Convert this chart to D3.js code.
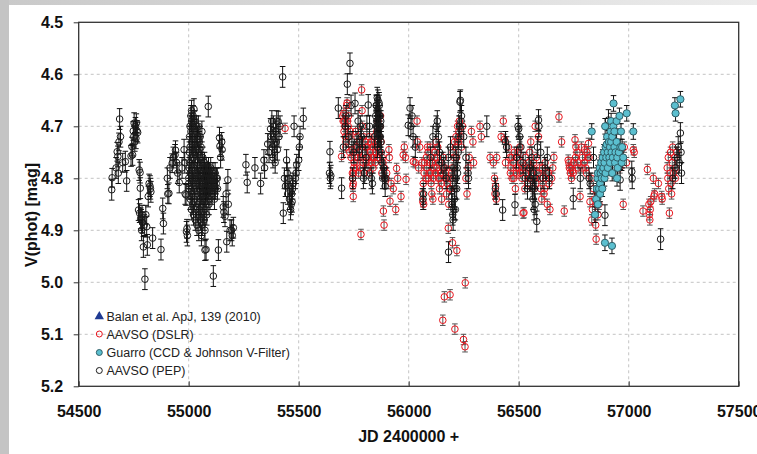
<!DOCTYPE html>
<html><head><meta charset="utf-8">
<script src="https://cdn.jsdelivr.net/npm/d3@7"></script>
<style>html,body{margin:0;padding:0;background:#fff;}svg{display:block;}</style>
</head><body>
<svg id="chart" width="757" height="454"></svg>
<script>
// ---------- data ----------
const xTicks = [54500, 55000, 55500, 56000, 56500, 57000, 57500];
const yTicks = [4.5, 4.6, 4.7, 4.8, 4.9, 5.0, 5.1, 5.2];
const xTitle = "JD 2400000 +";
const yTitle = "V(phot) [mag]";
const legendLabels = ["Balan et al. ApJ, 139 (2010)", "AAVSO (DSLR)", "Guarro (CCD & Johnson V-Filter)", "AAVSO (PEP)"];

// [JD, V mag, error]
const balan = [];

const pep = [
[54650,4.822,.02],[54652,4.799,.018],[54670,4.78,.02],[54675,4.749,.018],[54678,4.758,.02],[54680,4.79,.02],[54683,4.73,.017],[54686,4.686,.02],[54690,4.72,.02],[54700,4.77,.018],[54712,4.768,.02],[54718,4.805,.02],
[54738,4.757,.02],[54742,4.739,.018],[54745,4.755,.02],[54748,4.709,.018],[54750,4.72,.02],[54752,4.694,.02],[54755,4.73,.018],[54758,4.70,.017],[54760,4.723,.02],[54762,4.694,.018],[54765,4.709,.02],[54768,4.712,.02],
[54772,4.861,.02],[54775,4.784,.02],[54777,4.867,.018],[54779,4.789,.02],[54780,4.819,.02],[54782,4.877,.02],[54784,4.88,.02],[54786,4.9,.02],[54788,4.87,.018],[54790,4.885,.02],[54794,4.932,.02],[54798,4.89,.02],[54801,4.994,.02],[54805,4.87,.018],[54809,4.893,.02],[54812,4.928,.02],[54816,4.835,.02],[54820,4.81,.018],[54824,4.815,.02],[54826,4.82,.02],[54828,4.826,.02],[54836,4.915,.02],
[54874,4.937,.02],[54882,4.858,.02],[54885,4.887,.02],[54903,4.8,.02],[54905,4.83,.018],[54910,4.829,.02],[54915,4.78,.02],[54925,4.771,.018],[54930,4.76,.02],[54938,4.755,.02],[54940,4.746,.018],[54945,4.77,.02],[54950,4.79,.02],[54957,4.808,.02],[54970,4.78,.02],[54979,4.745,.02],[54982,4.77,.02],[54984,4.83,.02],[54988,4.832,.02],[54990,4.903,.02],[54992,4.897,.018],[54994,4.91,.02],
[55000,4.80,.02],[55000,4.81,.02],[55001,4.82,.02],[55002,4.78,.02],[55003,4.75,.02],[55004,4.77,.02],[55004,4.72,.02],[55006,4.70,.02],[55006,4.74,.02],[55007,4.79,.02],[55007,4.84,.02],
[55010,4.68,.02],[55010,4.71,.02],[55011,4.76,.02],[55011,4.82,.02],[55012,4.86,.02],[55013,4.67,.02],[55013,4.69,.02],[55014,4.73,.02],[55014,4.78,.02],[55015,4.83,.02],
[55016,4.70,.02],[55017,4.74,.02],[55017,4.80,.02],[55018,4.85,.02],[55020,4.68,.02],[55020,4.72,.02],[55021,4.76,.02],[55021,4.81,.02],[55022,4.87,.02],
[55024,4.667,.02],[55024,4.70,.02],[55025,4.75,.02],[55025,4.79,.02],[55026,4.84,.02],[55028,4.69,.02],[55028,4.73,.02],[55029,4.78,.02],[55029,4.82,.02],[55030,4.88,.02],
[55032,4.71,.02],[55032,4.75,.02],[55033,4.80,.02],[55034,4.86,.02],[55036,4.70,.02],[55036,4.74,.02],[55037,4.79,.02],[55037,4.83,.02],[55038,4.89,.02],
[55040,4.72,.02],[55040,4.77,.02],[55041,4.81,.02],[55042,4.85,.02],[55044,4.70,.02],[55044,4.75,.02],[55045,4.80,.02],[55045,4.87,.02],[55046,4.90,.02],
[55048,4.73,.02],[55048,4.78,.02],[55049,4.82,.02],[55050,4.86,.02],[55052,4.72,.02],[55052,4.76,.02],[55053,4.80,.02],[55053,4.84,.02],[55054,4.88,.02],
[55056,4.74,.02],[55056,4.79,.02],[55057,4.83,.02],[55058,4.91,.02],[55060,4.71,.02],[55060,4.77,.02],[55061,4.81,.02],[55061,4.85,.02],[55062,4.89,.02],
[55064,4.76,.02],[55064,4.80,.02],[55065,4.83,.02],[55066,4.87,.02],[55068,4.78,.02],[55068,4.81,.02],[55069,4.84,.02],[55070,4.88,.02],
[55072,4.77,.02],[55072,4.80,.02],[55073,4.82,.02],[55073,4.86,.02],[55074,4.90,.02],[55074,4.938,.02],[55076,4.79,.02],[55076,4.81,.02],[55077,4.83,.02],[55078,4.85,.02],[55079,4.937,.02],
[55080,4.78,.02],[55081,4.80,.02],[55081,4.82,.02],[55082,4.87,.02],[55085,4.79,.02],[55086,4.81,.02],[55086,4.83,.02],[55089,4.662,.02],
[55090,4.78,.02],[55091,4.80,.02],[55091,4.82,.02],[55092,4.85,.02],[55095,4.79,.02],[55096,4.81,.02],[55097,4.84,.02],
[55100,4.78,.02],[55101,4.80,.02],[55101,4.82,.02],[55105,4.80,.02],[55106,4.81,.02],[55106,4.83,.02],[55110,4.79,.02],[55111,4.82,.02],[55112,4.988,.02],
[55115,4.80,.02],[55116,4.81,.02],[55117,4.84,.02],[55120,4.79,.02],[55121,4.82,.02],[55125,4.81,.02],[55126,4.80,.02],[55130,4.80,.02],[55131,4.82,.02],
[55135,4.938,.02],[55140,4.722,.02],[55142,4.738,.02],[55145,4.76,.02],[55150,4.73,.018],[55152,4.745,.02],[55157,4.855,.02],[55160,4.865,.02],[55165,4.873,.02],[55170,4.83,.02],[55173,4.922,.02],[55178,4.803,.02],[55180,4.85,.02],[55188,4.9,.02],[55195,4.9,.02],[55198,4.91,.02],[55203,4.895,.02],
[55260,4.774,.02],[55266,4.808,.02],[55301,4.78,.02],[55327,4.81,.02],[55342,4.765,.02],[55345,4.78,.02],[55359,4.734,.02],[55365,4.75,.02],[55372,4.705,.02],[55375,4.72,.02],[55378,4.69,.02],[55380,4.74,.02],[55383,4.76,.02],[55385,4.70,.02],[55388,4.72,.018],[55390,4.75,.02],[55393,4.77,.02],[55395,4.71,.02],[55398,4.73,.02],[55400,4.69,.02],[55403,4.745,.02],[55407,4.691,.02],[55410,4.72,.02],[55415,4.70,.02],
[55427,4.605,.02],[55430,4.867,.02],[55435,4.80,.02],[55440,4.815,.02],[55445,4.765,.02],[55448,4.79,.02],[55450,4.83,.02],[55455,4.80,.02],[55458,4.84,.02],[55460,4.815,.02],[55463,4.86,.02],[55466,4.85,.02],[55468,4.83,.02],[55470,4.845,.02],[55472,4.82,.02],[55475,4.81,.02],[55479,4.70,.02],[55485,4.80,.02],[55488,4.79,.02],[55491,4.774,.02],[55500,4.765,.02],[55503,4.74,.02],[55506,4.72,.02],[55521,4.685,.02],
[55640,4.79,.02],[55642,4.749,.02],[55644,4.80,.02],[55646,4.795,.02],[55680,4.665,.02],[55695,4.819,.02],[55703,4.74,.02],[55712,4.70,.02],[55715,4.68,.02],[55721,4.619,.02],[55725,4.72,.02],[55733,4.579,.02],[55738,4.66,.02],[55742,4.73,.02],[55745,4.80,.02],[55750,4.75,.02],[55756,4.656,.02],[55765,4.73,.02],[55770,4.69,.02],[55775,4.745,.02],[55780,4.70,.02],[55785,4.72,.02],[55790,4.74,.02],[55794,4.80,.02],[55800,4.79,.02],[55806,4.76,.02],[55810,4.70,.02],[55816,4.659,.02],[55822,4.70,.02],[55830,4.80,.02],[55835,4.81,.02],
[55845,4.72,.02],[55850,4.68,.02],[55852,4.66,.02],[55853,4.70,.02],[55854,4.69,.02],[55855,4.66,.02],[55856,4.67,.02],[55857,4.645,.02],[55858,4.70,.02],[55858,4.74,.02],[55859,4.69,.02],[55860,4.65,.02],[55861,4.67,.02],[55862,4.68,.02],[55862,4.72,.02],[55863,4.71,.02],[55864,4.70,.02],[55865,4.655,.02],[55866,4.66,.02],[55867,4.68,.02],[55868,4.72,.02],[55869,4.70,.02],[55870,4.68,.02],[55871,4.72,.02],[55872,4.70,.02],[55873,4.69,.02],[55874,4.73,.02],[55875,4.75,.02],[55878,4.77,.02],[55882,4.80,.02],[55886,4.78,.02],[55890,4.80,.02],[55893,4.815,.02],[55897,4.80,.02],
[55998,4.698,.02],[56006,4.665,.02],[56010,4.70,.02],[56015,4.68,.02],[56020,4.72,.02],[56030,4.74,.02],[56065,4.84,.02],[56068,4.83,.02],[56100,4.76,.02],[56110,4.72,.02],[56125,4.70,.02],[56130,4.69,.02],[56135,4.72,.02],[56140,4.75,.02],[56150,4.77,.02],[56160,4.78,.02],[56170,4.80,.02],[56180,4.76,.02],[56181,4.942,.02],[56190,4.74,.02],[56195,4.835,.02],[56198,4.85,.02],[56200,4.87,.02],[56200,4.80,.02],[56202,4.88,.02],[56205,4.86,.02],[56205,4.78,.02],[56208,4.84,.02],[56210,4.82,.02],[56212,4.86,.02],[56215,4.80,.02],[56215,4.76,.02],[56218,4.82,.02],[56220,4.78,.02],[56222,4.79,.02],[56225,4.75,.02],[56228,4.72,.02],[56230,4.70,.02],[56233,4.653,.02],[56235,4.65,.02],[56238,4.69,.02],[56240,4.68,.02],[56250,4.72,.02],[56260,4.76,.02],[56270,4.79,.02],[56272,4.80,.02],
[56355,4.70,.02],[56394,4.82,.02],[56398,4.83,.02],[56427,4.861,.02],[56440,4.73,.02],[56445,4.74,.02],[56483,4.851,.02],[56490,4.76,.02],[56497,4.70,.02],[56500,4.705,.02],[56505,4.72,.02],[56510,4.74,.02],[56520,4.77,.02],[56530,4.80,.02],[56540,4.82,.02],[56550,4.78,.02],[56555,4.80,.02],[56560,4.76,.02],[56562,4.82,.02],[56565,4.84,.02],[56568,4.79,.02],[56570,4.86,.02],[56572,4.82,.02],[56575,4.85,.02],[56578,4.80,.02],[56582,4.883,.02],[56585,4.74,.02],[56590,4.688,.02],[56592,4.70,.02],[56600,4.75,.02],[56610,4.80,.02],[56620,4.78,.02],[56630,4.76,.02],[56640,4.80,.02],
[56748,4.839,.02],[56780,4.80,.02],[56820,4.80,.02],[56825,4.81,.02],[56840,4.76,.02],[56860,4.83,.02],[56880,4.80,.02],[56892,4.871,.02],[56900,4.75,.02],[56908,4.688,.02],[56920,4.74,.02],[56940,4.78,.02],[56961,4.803,.02],[56970,4.76,.02],[57014,4.787,.02],[57016,4.80,.02],[57145,4.917,.02],[57200,4.80,.02],[57210,4.78,.02],[57220,4.76,.02],[57225,4.74,.02],[57230,4.77,.02],[57235,4.713,.02],[57238,4.75,.02],[57240,4.79,.02]
];

const dslr = [
[55438,4.704,.01],
[55695,4.758,.01],[55700,4.68,.01],[55702,4.69,.01],[55705,4.675,.01],[55706,4.71,.01],[55708,4.69,.01],[55710,4.70,.01],[55712,4.72,.01],[55714,4.74,.01],[55715,4.73,.01],[55718,4.66,.01],[55720,4.655,.01],[55722,4.69,.01],[55725,4.70,.01],[55727,4.68,.01],[55730,4.72,.01],[55732,4.75,.01],[55735,4.71,.01],[55738,4.76,.01],[55742,4.745,.01],[55744,4.79,.01],[55745,4.80,.01],[55746,4.815,.01],[55748,4.835,.01],[55748,4.81,.01],[55749,4.79,.01],[55750,4.78,.01],[55752,4.77,.01],[55755,4.76,.01],[55758,4.71,.01],[55760,4.74,.01],[55762,4.78,.01],[55765,4.72,.01],[55768,4.74,.01],[55770,4.76,.01],[55772,4.79,.01],[55775,4.75,.01],[55778,4.73,.01],[55780,4.78,.01],[55782,4.76,.01],[55783,4.908,.01],[55786,4.63,.01],[55788,4.67,.01],[55790,4.70,.01],[55792,4.77,.01],[55795,4.72,.01],[55797,4.79,.01],[55800,4.75,.01],[55802,4.73,.01],[55805,4.74,.01],[55807,4.77,.01],[55810,4.76,.01],[55812,4.74,.01],[55815,4.78,.01],[55818,4.76,.01],[55820,4.72,.01],[55822,4.79,.01],[55825,4.75,.01],[55828,4.73,.01],[55830,4.77,.01],[55832,4.76,.01],[55835,4.74,.01],[55838,4.78,.01],[55840,4.76,.01],[55842,4.72,.01],[55845,4.73,.01],[55848,4.77,.01],[55850,4.75,.01],[55852,4.74,.01],[55855,4.71,.01],[55858,4.76,.01],[55860,4.69,.01],[55862,4.73,.01],[55865,4.72,.01],[55868,4.75,.01],[55870,4.70,.01],[55872,4.68,.01],[55875,4.73,.01],[55878,4.79,.01],[55880,4.76,.01],[55883,4.77,.01],[55885,4.863,.01],[55888,4.89,.01],[55890,4.78,.01],[55895,4.80,.01],[55900,4.79,.01],
[55910,4.745,.01],[55912,4.76,.01],[55915,4.844,.01],[55920,4.81,.01],[55930,4.82,.01],[55941,4.86,.01],[55945,4.781,.01],[55950,4.80,.01],[55965,4.835,.01],[55975,4.755,.01],[55980,4.74,.01],[55985,4.76,.01],[55988,4.802,.01],[56021,4.768,.01],[56030,4.77,.01],[56038,4.69,.01],[56040,4.73,.01],[56045,4.78,.01],
[56050,4.74,.01],[56060,4.77,.01],[56062,4.83,.01],[56064,4.845,.01],[56066,4.81,.01],[56068,4.85,.01],[56070,4.79,.01],[56072,4.77,.01],[56078,4.80,.01],[56080,4.76,.01],[56082,4.78,.01],[56085,4.74,.01],[56088,4.75,.01],[56090,4.80,.01],[56092,4.79,.01],[56095,4.77,.01],[56098,4.74,.01],[56100,4.79,.01],[56102,4.81,.01],[56105,4.83,.01],[56108,4.77,.01],[56110,4.84,.01],[56112,4.80,.01],[56115,4.78,.01],[56118,4.76,.01],[56120,4.75,.01],[56122,4.79,.01],[56125,4.73,.01],[56128,4.78,.01],[56130,4.76,.01],[56132,4.74,.01],[56135,4.80,.01],[56138,4.77,.01],[56140,4.82,.01],[56142,4.80,.01],[56145,4.79,.01],[56148,4.81,.01],[56150,4.84,.01],[56152,4.78,.01],[56155,5.073,.01],[56158,4.76,.01],[56162,5.028,.01],[56165,4.78,.01],[56168,4.79,.01],[56170,4.80,.01],[56172,4.83,.01],[56175,4.81,.01],[56178,4.80,.01],[56180,4.896,.01],[56182,4.85,.01],[56185,4.82,.01],[56188,5.024,.01],[56190,4.82,.01],[56192,4.80,.01],[56195,4.79,.01],[56198,4.78,.01],[56199,4.924,.01],[56202,4.75,.01],[56205,4.76,.01],[56208,4.73,.01],[56210,5.09,.01],[56212,4.74,.01],[56215,4.72,.01],[56218,4.76,.01],[56219,4.939,.01],[56222,4.70,.01],[56225,4.73,.01],[56228,4.71,.01],[56230,4.69,.01],[56235,4.72,.01],[56240,4.74,.01],[56245,4.70,.01],[56249,5.11,.01],[56256,5.124,.01],[56257,5.001,.01],[56260,4.80,.01],[56265,4.83,.01],[56270,4.78,.01],[56275,4.76,.01],[56285,4.71,.01],[56292,4.73,.01],[56295,4.77,.01],[56324,4.70,.01],[56330,4.72,.01],
[56370,4.76,.01],[56385,4.77,.01],[56390,4.80,.01],[56392,4.83,.01],[56395,4.815,.01],[56398,4.84,.01],[56400,4.76,.01],[56420,4.72,.01],[56430,4.69,.01],[56435,4.725,.01],[56440,4.77,.01],[56453,4.74,.01],[56460,4.76,.01],[56462,4.79,.01],[56465,4.78,.01],[56468,4.76,.01],[56470,4.80,.01],[56475,4.77,.01],[56478,4.80,.01],[56480,4.75,.01],[56485,4.82,.01],[56488,4.78,.01],[56490,4.79,.01],[56495,4.76,.01],[56498,4.75,.01],[56500,4.78,.01],[56505,4.74,.01],[56508,4.79,.01],[56510,4.77,.01],[56515,4.80,.01],[56518,4.78,.01],[56520,4.867,.01],[56524,4.866,.01],[56528,4.82,.01],[56530,4.76,.01],[56535,4.79,.01],[56538,4.78,.01],[56540,4.81,.01],[56545,4.77,.01],[56548,4.80,.01],[56550,4.75,.01],[56555,4.73,.01],[56558,4.79,.01],[56560,4.78,.01],[56565,4.82,.01],[56568,4.77,.01],[56570,4.80,.01],[56575,4.70,.01],[56578,4.81,.01],[56580,4.76,.01],[56588,4.79,.01],[56590,4.72,.01],[56595,4.78,.01],[56598,4.80,.01],[56600,4.82,.01],[56605,4.84,.01],[56608,4.78,.01],[56610,4.80,.01],[56615,4.83,.01],[56618,4.82,.01],[56620,4.77,.01],[56625,4.80,.01],[56628,4.79,.01],[56630,4.85,.01],[56635,4.79,.01],[56638,4.81,.01],[56642,4.86,.01],[56650,4.80,.01],[56655,4.78,.01],[56660,4.76,.01],
[56683,4.682,.01],[56695,4.73,.01],[56707,4.863,.01],[56725,4.765,.01],[56728,4.77,.01],[56730,4.78,.01],[56735,4.79,.01],[56738,4.78,.01],[56740,4.80,.01],[56745,4.785,.01],[56748,4.79,.01],[56750,4.77,.01],[56756,4.726,.01],[56758,4.76,.01],[56760,4.74,.01],[56765,4.75,.01],[56768,4.77,.01],[56770,4.78,.01],[56779,4.835,.01],[56785,4.74,.01],[56788,4.78,.01],[56790,4.76,.01],[56798,4.77,.01],[56800,4.745,.01],[56805,4.78,.01],[56808,4.79,.01],[56810,4.75,.01],[56814,4.76,.01],[56817,4.733,.01],[56820,4.76,.01],[56824,4.845,.01],[56830,4.80,.01],[56832,4.88,.01],[56835,4.86,.01],[56840,4.82,.01],[56845,4.84,.01],[56848,4.87,.01],[56850,4.89,.01],[56852,4.917,.01],[56855,4.85,.01],[56858,4.83,.01],[56860,4.87,.01],[56862,4.80,.01],[56865,4.85,.01],[56868,4.82,.01],[56870,4.78,.01],[56875,4.81,.01],[56880,4.76,.01],[56885,4.79,.01],[56900,4.75,.01],[56920,4.72,.01],[56940,4.77,.01],[56950,4.75,.01],[56960,4.78,.01],[56975,4.85,.01],[56980,4.74,.01],[56990,4.77,.01],[57021,4.745,.01],[57025,4.75,.01],
[57065,4.863,.01],[57085,4.783,.01],[57092,4.85,.01],[57094,4.87,.01],[57096,4.88,.01],[57098,4.86,.01],[57100,4.845,.01],[57112,4.80,.01],[57115,4.834,.01],[57118,4.83,.01],[57135,4.81,.01],[57150,4.835,.01],[57152,4.84,.01],[57175,4.78,.01],[57178,4.80,.01],[57180,4.76,.01],[57182,4.82,.01],[57185,4.867,.01],[57188,4.79,.01],[57190,4.75,.01],[57192,4.81,.01],[57195,4.83,.01],[57198,4.77,.01],[57200,4.74,.01],[57205,4.79,.01],[57210,4.76,.01],[57212,4.80,.01],[57215,4.78,.01],[57218,4.75,.01]
];

const guarro = [
[56832,4.71,.015],[56847,4.87,.015],[56852,4.84,.015],[56855,4.82,.015],[56858,4.80,.015],[56860,4.79,.015],[56860,4.85,.015],[56865,4.82,.015],[56868,4.78,.015],[56870,4.81,.015],[56870,4.83,.015],[56872,4.79,.015],[56875,4.77,.015],[56878,4.80,.015],[56880,4.785,.015],[56880,4.82,.015],[56882,4.76,.015],[56885,4.78,.015],[56888,4.75,.015],[56890,4.77,.015],[56890,4.80,.015],[56892,4.924,.015],[56893,4.70,.015],[56895,4.74,.015],[56895,4.79,.015],[56898,4.76,.015],[56900,4.735,.015],[56902,4.72,.015],[56905,4.75,.015],[56905,4.78,.015],[56910,4.73,.015],[56912,4.76,.015],[56915,4.74,.015],[56915,4.77,.015],[56918,4.71,.015],[56920,4.73,.015],[56920,4.69,.015],[56922,4.75,.015],[56924,4.93,.015],[56925,4.72,.015],[56925,4.79,.015],[56928,4.76,.015],[56930,4.70,.015],[56931,4.656,.015],[56935,4.74,.015],[56935,4.71,.015],[56938,4.77,.015],[56940,4.75,.015],[56945,4.73,.015],[56945,4.69,.015],[56947,4.80,.015],[56948,4.76,.015],[56950,4.78,.015],[56955,4.75,.015],[56958,4.68,.015],[56962,4.74,.015],[56965,4.71,.015],[56968,4.77,.015],[56970,4.74,.015],[56975,4.76,.015],[56991,4.675,.015],[57021,4.71,.015],[57210,4.66,.015],[57213,4.675,.015],[57235,4.648,.015]
];

// ---------- drawing ----------
const W = 757, H = 454;
const plot = {left: 78.7, right: 738.7, top: 22.3, bottom: 386.3};
const svg = d3.select("#chart");
const FONT = "'Liberation Sans', Arial, Helvetica, sans-serif";

// frame decoration
const defs = svg.append("defs");
const g1 = defs.append("linearGradient").attr("id","topband").attr("x1","0").attr("x2","1");
g1.append("stop").attr("offset","0").attr("stop-color","#c9c9c9");
g1.append("stop").attr("offset","1").attr("stop-color","#ececec");
svg.append("rect").attr("width",W).attr("height",H).attr("fill","#fff");
svg.append("rect").attr("x",0).attr("y",0).attr("width",W).attr("height",5).attr("fill","url(#topband)");
svg.append("rect").attr("x",0).attr("y",0).attr("width",9).attr("height",H).attr("fill","#c4c4c4");

const x = d3.scaleLinear().domain([54500, 57500]).range([plot.left, plot.right]);
const y = d3.scaleLinear().domain([4.5, 5.2]).range([plot.top, plot.bottom]);

// gridlines
const grid = svg.append("g");
grid.selectAll(".vg").data(xTicks.slice(1, -1)).join("line")
  .attr("x1", d => x(d)).attr("x2", d => x(d))
  .attr("y1", plot.top).attr("y2", plot.bottom)
  .attr("stroke", "#c4c4c4").attr("stroke-width", 1).attr("stroke-dasharray", "3,3");
grid.selectAll(".hg").data(yTicks.slice(1, -1)).join("line")
  .attr("x1", plot.left).attr("x2", plot.right)
  .attr("y1", d => y(d)).attr("y2", d => y(d))
  .attr("stroke", "#c4c4c4").attr("stroke-width", 1).attr("stroke-dasharray", "3,3");

// axes
const xAxis = d3.axisBottom(x).tickValues(xTicks).tickFormat(d3.format("d")).tickSizeInner(-5).tickSizeOuter(0).tickPadding(19);
const gx = svg.append("g").attr("transform", `translate(0,${plot.bottom})`).call(xAxis);
gx.select(".domain").remove();
gx.selectAll("line").attr("stroke", "#333");
gx.selectAll("text").attr("font-family", FONT).attr("font-size", 16).attr("font-weight", "bold").attr("fill", "#111");

const yAxis = d3.axisLeft(y).tickValues(yTicks).tickFormat(d3.format(".1f")).tickSizeInner(5).tickSizeOuter(0).tickPadding(10.5);
const gy = svg.append("g").attr("transform", `translate(${plot.left},0)`).call(yAxis);
gy.select(".domain").remove();
gy.selectAll("line").attr("stroke", "#333");
gy.selectAll("text").attr("font-family", FONT).attr("font-size", 16).attr("font-weight", "bold").attr("fill", "#111");

// titles
svg.append("text").attr("x", (plot.left + plot.right) / 2).attr("y", 442)
  .attr("text-anchor", "middle").attr("font-family", FONT).attr("font-size", 16).attr("font-weight", "bold").attr("fill", "#111")
  .text(xTitle);
svg.append("text").attr("transform", "translate(37,215) rotate(-90)")
  .attr("text-anchor", "middle").attr("font-family", FONT).attr("font-size", 16).attr("font-weight", "bold").attr("fill", "#111")
  .text(yTitle);

// series drawing
const data = svg.append("g");
function drawSeries(arr, opts) {
  const g = data.append("g");
  const cap = 2.8;
  g.selectAll("path.err").data(arr).join("path")
    .attr("d", d => {
      const cx = x(d[0]), y1 = y(d[1] - d[2]), y2 = y(d[1] + d[2]);
      return `M${cx},${y1}V${y2}M${cx - cap},${y1}H${cx + cap}M${cx - cap},${y2}H${cx + cap}`;
    })
    .attr("fill", "none").attr("stroke", opts.errColor).attr("stroke-width", 1);
  g.selectAll("circle").data(arr).join("circle")
    .attr("cx", d => x(d[0])).attr("cy", d => y(d[1])).attr("r", opts.r)
    .attr("fill", opts.fill).attr("stroke", opts.stroke).attr("stroke-width", opts.sw);
}
drawSeries(dslr, {errColor: "#555", fill: "none", stroke: "#e8141c", r: 3.3, sw: 1});
drawSeries(pep, {errColor: "#111", fill: "none", stroke: "#1a1a1a", r: 3.3, sw: 1});
drawSeries(guarro, {errColor: "#111", fill: "#5bbfcf", stroke: "#2f5f68", r: 3.6, sw: 1});
drawSeries(balan, {errColor: "#111", fill: "#1f3a93", stroke: "#1f3a93", r: 3.5, sw: 1});

// plot frame
svg.append("rect").attr("x", plot.left).attr("y", plot.top)
  .attr("width", plot.right - plot.left).attr("height", plot.bottom - plot.top)
  .attr("fill", "none").attr("stroke", "#333").attr("stroke-width", 1.3);

// legend
const leg = svg.append("g");
const ly = [316, 334, 352.5, 370.5];
const lx = 99.3;
leg.append("path").attr("d", d3.symbol(d3.symbolTriangle, 38)()).attr("transform", `translate(${lx},${ly[0] + 0.5})`).attr("fill", "#1f3a93");
leg.append("circle").attr("cx", lx).attr("cy", ly[1]).attr("r", 3).attr("fill", "none").attr("stroke", "#e8141c");
leg.append("circle").attr("cx", lx).attr("cy", ly[2]).attr("r", 3).attr("fill", "#5bbfcf").attr("stroke", "#2f5f68");
leg.append("circle").attr("cx", lx).attr("cy", ly[3]).attr("r", 3).attr("fill", "none").attr("stroke", "#1a1a1a");
leg.selectAll("text").data(legendLabels).join("text")
  .attr("x", 106.5).attr("y", (d, i) => ly[i] + 4.5)
  .attr("font-family", FONT).attr("font-size", 12.5).attr("fill", "#222")
  .text(d => d);
</script>
</body></html>
